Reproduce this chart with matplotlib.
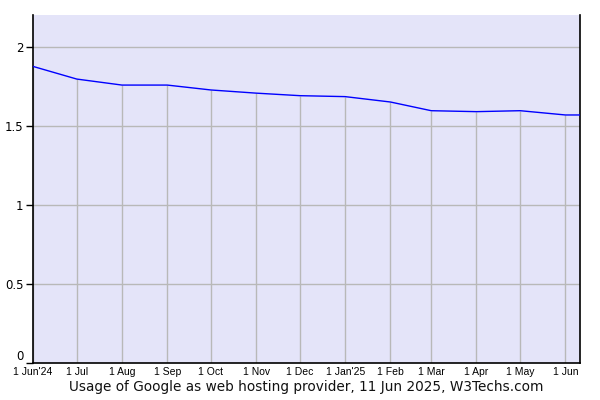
import numpy as np
import pandas as pd
import matplotlib
matplotlib.use('Agg')
import matplotlib.pyplot as plt
import matplotlib.dates as mdates

# monthly samples, last one is the day of the report
dates = pd.to_datetime(['2024-06-01', '2024-07-01', '2024-08-01', '2024-09-01',
                        '2024-10-01', '2024-11-01', '2024-12-01', '2025-01-01',
                        '2025-02-01', '2025-03-01', '2025-04-01', '2025-05-01',
                        '2025-06-01', '2025-06-11'])
usage = [1.875, 1.795, 1.757, 1.757, 1.726, 1.706, 1.690, 1.684,
         1.650, 1.595, 1.589, 1.595, 1.568, 1.568]

tick_dates = pd.to_datetime(['2024-06-01', '2024-07-01', '2024-08-01', '2024-09-01',
                             '2024-10-01', '2024-11-01', '2024-12-01', '2025-01-01',
                             '2025-02-01', '2025-03-01', '2025-04-01', '2025-05-01',
                             '2025-06-01'])
tick_labels = ["1 Jun'24", '1 Jul', '1 Aug', '1 Sep', '1 Oct', '1 Nov', '1 Dec',
               "1 Jan'25", '1 Feb', '1 Mar', '1 Apr', '1 May', '1 Jun']
yticks = [0, 0.5, 1, 1.5, 2]
ylabels = ['0', '0.5', '1', '1.5', '2']

title = 'Usage of Google as web hosting provider, 11 Jun 2025, W3Techs.com'

fig = plt.figure(figsize=(6, 4), dpi=100)
ax = fig.add_axes([0.055, 0.0925, 0.9117, 0.87])
ax.set_facecolor('#e4e4f9')

ax.set_xlim(dates[0], dates[-1])
ax.set_ylim(0, 2.2)

# horizontal grid across, vertical grid only up to the line
for y in yticks[1:]:
    ax.axhline(y, color='#b8b8b8', lw=1, zorder=1)
ax.vlines(dates[:-1], 0, usage[:-1], color='#b8b8b8', lw=1, zorder=1)

ax.plot(dates, usage, color='#0000ff', lw=1, zorder=3)

ax.spines['top'].set_visible(False)
for s in ['left', 'right', 'bottom']:
    ax.spines[s].set_color('black')
    ax.spines[s].set_linewidth(1.2)

ax.set_yticks(yticks)
ax.set_yticklabels(ylabels, fontsize=8.5, family='DejaVu Sans')
ax.tick_params(axis='y', length=5, width=1, direction='out', pad=2)
ax.get_yticklabels()[0].set_va('bottom')

ax.set_xticks(tick_dates)
ax.set_xticklabels(tick_labels, fontsize=7.5, family='Liberation Sans')
ax.tick_params(axis='x', length=0, pad=3)

fig.text(0.51, 0.032, title, ha='center', va='center', fontsize=9.8,
         family='DejaVu Sans', color='#111111')

fig.savefig('out.png', dpi=100)
